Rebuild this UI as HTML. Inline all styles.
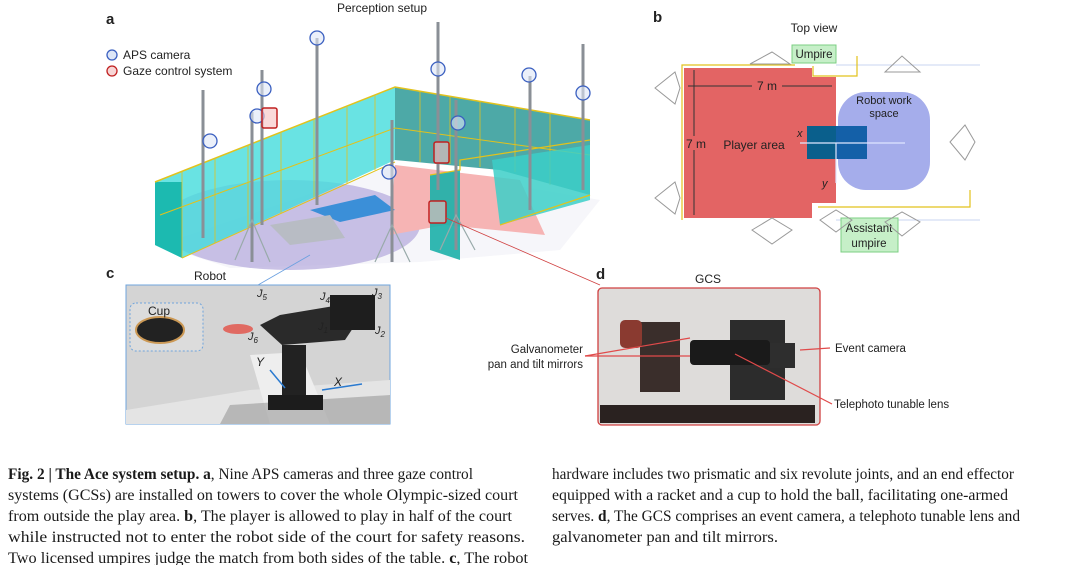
<!DOCTYPE html>
<html><head><meta charset="utf-8"><style>
html,body{margin:0;padding:0;background:#fff;width:1080px;height:565px;overflow:hidden}
svg{display:block}
.s{font-family:"Liberation Sans",sans-serif;fill:#222}
.c{font-family:"Liberation Serif",serif;font-size:15.5px;fill:#1a1a1a}
</style></head><body>
<svg width="1080" height="565" viewBox="0 0 1080 565">
<!-- Panel a -->
<text class="s" x="106" y="24" font-size="15" font-weight="bold" fill="#000">a</text>
<text class="s" x="382" y="12" font-size="12" text-anchor="middle">Perception setup</text>
<circle cx="112" cy="55" r="5" fill="#dde6f7" stroke="#3a5fc0" stroke-width="1.3"/>
<text class="s" x="123" y="59" font-size="12">APS camera</text>
<circle cx="112" cy="71" r="5" fill="#f7d6d6" stroke="#c02020" stroke-width="1.3"/>
<text class="s" x="123" y="75" font-size="12">Gaze control system</text>
<!-- floor -->
<polygon points="160,245 395,165 600,200 560,250 420,262 230,268" fill="#f6f6fa"/>
<ellipse cx="290" cy="225" rx="130" ry="45" fill="#b3a8dc" opacity="0.7"/>
<polygon points="395,165 520,180 545,235 445,225 390,235" fill="#f6b4b4"/>
<polygon points="310,210 375,195 395,210 340,222" fill="#3b8fd8"/>
<polygon points="270,225 330,215 345,238 290,245" fill="#b8bcc4"/>
<!-- back wall -->
<polygon points="395,87 590,120 590,195 500,170 395,160" fill="#2e9a98" opacity="0.85"/>
<!-- left fence -->
<polygon points="155,182 395,87 395,160 182,258 155,245" fill="#44dcdc" opacity="0.8"/>
<polygon points="155,182 182,182 182,258 155,245" fill="#1cbab0"/>
<g stroke="#e2c21c" stroke-width="0.8">
<line x1="182" y1="172" x2="182" y2="258"/><line x1="215" y1="159" x2="215" y2="243"/><line x1="248" y1="146" x2="248" y2="228"/>
<line x1="281" y1="133" x2="281" y2="213"/><line x1="314" y1="120" x2="314" y2="198"/><line x1="347" y1="107" x2="347" y2="183"/>
<line x1="375" y1="96" x2="375" y2="170"/><line x1="420" y1="91" x2="420" y2="162"/><line x1="450" y1="96" x2="450" y2="164"/>
<line x1="480" y1="101" x2="480" y2="167"/><line x1="515" y1="107" x2="515" y2="172"/><line x1="550" y1="113" x2="550" y2="185"/>
</g>
<polyline points="155,182 395,87 590,120" fill="none" stroke="#e2c21c" stroke-width="1.5"/>
<polyline points="160,215 395,128 590,155" fill="none" stroke="#e2c21c" stroke-width="1"/>
<polyline points="182,258 395,162" fill="none" stroke="#e2c21c" stroke-width="1"/>
<!-- right fence segments -->
<polygon points="430,175 460,170 460,260 430,250" fill="#1cb0a8" opacity="0.9"/>
<polygon points="492,160 590,145 590,200 500,225" fill="#3ccfc8" opacity="0.85"/>
<polyline points="430,175 460,170 460,160 590,140" fill="none" stroke="#e2c21c" stroke-width="1.2"/>
<polyline points="500,225 590,195" fill="none" stroke="#e2c21c" stroke-width="1.2"/>
<!-- towers -->
<g stroke="#8a8f96" stroke-width="3" fill="none">
<line x1="203" y1="90" x2="203" y2="238"/><line x1="262" y1="70" x2="262" y2="225"/>
<line x1="317" y1="38" x2="317" y2="205"/><line x1="252" y1="112" x2="252" y2="262"/>
<line x1="438" y1="22" x2="438" y2="190"/><line x1="456" y1="100" x2="456" y2="250"/>
<line x1="392" y1="120" x2="392" y2="262"/><line x1="530" y1="76" x2="530" y2="210"/>
<line x1="583" y1="44" x2="583" y2="190"/>
</g>
<g stroke="#9aa" stroke-width="1.2" fill="none">
<polyline points="235,260 252,220 270,262"/><polyline points="375,262 392,225 410,262"/><polyline points="440,250 456,215 475,250"/>
</g>
<g fill="#dde6f7" fill-opacity="0.6" stroke="#3a5fc0" stroke-width="1.3">
<circle cx="317" cy="38" r="7"/><circle cx="210" cy="141" r="7"/><circle cx="264" cy="89" r="7"/>
<circle cx="257" cy="116" r="7"/><circle cx="438" cy="69" r="7"/><circle cx="529" cy="75" r="7"/>
<circle cx="583" cy="93" r="7"/><circle cx="458" cy="123" r="7"/><circle cx="389" cy="172" r="7"/>
</g>
<g fill="#f7c0c0" fill-opacity="0.6" stroke="#c02020" stroke-width="1.5">
<rect x="262" y="108" width="15" height="20" rx="2"/><rect x="434" y="142" width="15" height="21" rx="2"/><rect x="429" y="201" width="17" height="22" rx="2"/>
</g>
<line x1="446" y1="218" x2="600" y2="285" stroke="#d04040" stroke-width="0.8"/>
<line x1="310" y1="255" x2="258" y2="285" stroke="#6aa0e0" stroke-width="0.8"/>
<!-- Panel b -->
<text class="s" x="653" y="22" font-size="15" font-weight="bold" fill="#000">b</text>
<text class="s" x="814" y="32" font-size="12" text-anchor="middle">Top view</text>
<line x1="836" y1="65" x2="980" y2="65" stroke="#c8d4f0" stroke-width="1"/>
<line x1="836" y1="220" x2="980" y2="220" stroke="#c8d4f0" stroke-width="1"/>
<polyline points="682,220 682,65 795,65" fill="none" stroke="#e2c21c" stroke-width="1.2"/>
<polyline points="818,207 970,207 970,190" fill="none" stroke="#e2c21c" stroke-width="1.2"/>
<polyline points="813,66 813,76 857,76 857,56" fill="none" stroke="#e2c21c" stroke-width="1.2"/>
<polygon points="684,68 812,68 812,77 836,77 836,203 812,203 812,218 684,218" fill="#e36464"/>
<rect x="838" y="92" width="92" height="98" rx="28" fill="#8e98e6" opacity="0.8"/>
<rect x="807" y="126" width="60" height="33" fill="#0a5f8c"/>
<rect x="836" y="126" width="31" height="33" fill="#1460a8"/>
<line x1="800" y1="143" x2="905" y2="143" stroke="#dfe6ff" stroke-width="1.2"/>
<line x1="836" y1="143" x2="836" y2="183" stroke="#dfe6ff" stroke-width="1.2"/>
<line x1="694" y1="70" x2="694" y2="215" stroke="#333" stroke-width="1"/>
<line x1="688" y1="86" x2="832" y2="86" stroke="#333" stroke-width="1"/>
<rect x="752" y="78" width="30" height="14" fill="#e36464"/>
<text class="s" x="767" y="90" font-size="12" text-anchor="middle">7 m</text>
<rect x="685" y="136" width="22" height="14" fill="#e36464"/>
<text class="s" x="696" y="148" font-size="12" text-anchor="middle">7 m</text>
<text class="s" x="754" y="149" font-size="12" text-anchor="middle">Player area</text>
<text class="s" x="884" y="104" font-size="11" text-anchor="middle" fill="#333">Robot work</text>
<text class="s" x="884" y="117" font-size="11" text-anchor="middle" fill="#333">space</text>
<text class="s" x="797" y="137" font-size="11" font-style="italic">x</text>
<text class="s" x="822" y="187" font-size="11" font-style="italic">y</text>
<rect x="792" y="45" width="44" height="18" fill="#c6efc8" stroke="#7ccf83"/>
<text class="s" x="814" y="58" font-size="11.5" text-anchor="middle">Umpire</text>
<rect x="841" y="218" width="57" height="34" fill="#c6efc8" stroke="#7ccf83"/>
<text class="s" x="869" y="232" font-size="11.5" text-anchor="middle">Assistant</text>
<text class="s" x="869" y="247" font-size="11.5" text-anchor="middle">umpire</text>
<g stroke="#999" stroke-width="1" fill="none">
<polygon points="655,88 675,72 680,88 675,104"/><polygon points="655,198 675,182 680,198 675,214"/>
<polygon points="750,64 772,52 790,64"/><polygon points="885,72 902,56 920,72"/>
<polygon points="950,142 965,125 975,142 965,160"/><polygon points="752,230 772,218 792,230 772,244"/>
<polygon points="820,220 836,210 852,220 836,232"/><polygon points="885,222 902,212 920,222 902,236"/>
</g>
<!-- Panel c -->
<text class="s" x="106" y="278" font-size="15" font-weight="bold" fill="#000">c</text>
<text class="s" x="210" y="280" font-size="12" text-anchor="middle">Robot</text>
<rect x="126" y="285" width="264" height="139" fill="#d4d4d4" stroke="#6fa4dc" stroke-width="1"/>
<polygon points="126,410 250,390 390,380 390,424 126,424" fill="#e4e4e4"/>
<polygon points="250,355 300,352 330,424 270,424" fill="#eeeeee"/>
<polygon points="230,405 390,395 390,424 220,424" fill="#9a9a9a" opacity="0.6"/>
<rect x="130" y="303" width="73" height="48" rx="6" fill="#dcdcdc" stroke="#6fa4dc" stroke-dasharray="2,2"/>
<ellipse cx="160" cy="330" rx="24" ry="13" fill="#222" stroke="#c95" stroke-width="2"/>
<text class="s" x="148" y="315" font-size="12">Cup</text>
<ellipse cx="238" cy="329" rx="15" ry="5" fill="#e06a62"/>
<rect x="282" y="345" width="24" height="60" fill="#222"/>
<polygon points="282,345 345,340 355,325 340,305 280,315 260,325" fill="#2a2a2a"/>
<rect x="330" y="295" width="45" height="35" fill="#1e1e1e"/>
<rect x="268" y="395" width="55" height="15" fill="#1c1c1c"/>
<line x1="285" y1="388" x2="270" y2="370" stroke="#2a7ad0" stroke-width="1.5"/>
<line x1="322" y1="390" x2="362" y2="384" stroke="#2a7ad0" stroke-width="1.5"/>
<g class="s" font-size="11" font-style="italic">
<text x="257" y="297">J<tspan font-size="8" dy="3">5</tspan></text>
<text x="320" y="300">J<tspan font-size="8" dy="3">4</tspan></text>
<text x="372" y="296">J<tspan font-size="8" dy="3">3</tspan></text>
<text x="318" y="330">J<tspan font-size="8" dy="3">1</tspan></text>
<text x="375" y="334">J<tspan font-size="8" dy="3">2</tspan></text>
<text x="248" y="340">J<tspan font-size="8" dy="3">6</tspan></text>
<text x="256" y="366" font-size="12">Y</text><text x="334" y="386" font-size="12">X</text>
</g>
<!-- Panel d -->
<text class="s" x="596" y="279" font-size="15" font-weight="bold" fill="#000">d</text>
<text class="s" x="708" y="283" font-size="12" text-anchor="middle">GCS</text>
<rect x="598" y="288" width="222" height="137" rx="4" fill="#dedcda" stroke="#d04040" stroke-width="1.3"/>
<rect x="600" y="405" width="215" height="18" fill="#2a2220"/>
<rect x="640" y="322" width="40" height="70" fill="#3a2e2b"/>
<rect x="620" y="320" width="22" height="28" rx="5" fill="#8a3a30"/>
<rect x="730" y="320" width="55" height="80" fill="#2c2c2c"/>
<rect x="690" y="340" width="80" height="25" rx="4" fill="#1a1a1a"/>
<rect x="770" y="343" width="25" height="25" fill="#2e2e2e"/>
<g stroke="#e04a4a" stroke-width="1.2" fill="none">
<polyline points="585,356 690,338"/><polyline points="585,356 690,356"/>
<line x1="800" y1="350" x2="830" y2="348"/><line x1="735" y1="354" x2="832" y2="404"/>
</g>
<g class="s" font-size="11.5">
<text x="583" y="353" text-anchor="end">Galvanometer</text>
<text x="583" y="368" text-anchor="end">pan and tilt mirrors</text>
<text x="835" y="352">Event camera</text>
<text x="834" y="408">Telephoto tunable lens</text>
</g>
<!-- caption -->
<g class="c">
<text x="8" y="479" textLength="465" lengthAdjust="spacingAndGlyphs"><tspan font-weight="bold">Fig. 2 | The Ace system setup. a</tspan>, Nine APS cameras and three gaze control</text>
<text x="8" y="500" textLength="510" lengthAdjust="spacingAndGlyphs">systems (GCSs) are installed on towers to cover the whole Olympic-sized court</text>
<text x="8" y="521" textLength="504" lengthAdjust="spacingAndGlyphs">from outside the play area. <tspan font-weight="bold">b</tspan>, The player is allowed to play in half of the court</text>
<text x="8" y="542" textLength="517" lengthAdjust="spacingAndGlyphs">while instructed not to enter the robot side of the court for safety reasons.</text>
<text x="8" y="563" textLength="520" lengthAdjust="spacingAndGlyphs">Two licensed umpires judge the match from both sides of the table. <tspan font-weight="bold">c</tspan>, The robot</text>
<text x="552" y="479" textLength="462" lengthAdjust="spacingAndGlyphs">hardware includes two prismatic and six revolute joints, and an end effector</text>
<text x="552" y="500" textLength="456" lengthAdjust="spacingAndGlyphs">equipped with a racket and a cup to hold the ball, facilitating one-armed</text>
<text x="552" y="521" textLength="468" lengthAdjust="spacingAndGlyphs">serves. <tspan font-weight="bold">d</tspan>, The GCS comprises an event camera, a telephoto tunable lens and</text>
<text x="552" y="542" textLength="226" lengthAdjust="spacingAndGlyphs">galvanometer pan and tilt mirrors.</text>
</g>
</svg>
</body></html>
